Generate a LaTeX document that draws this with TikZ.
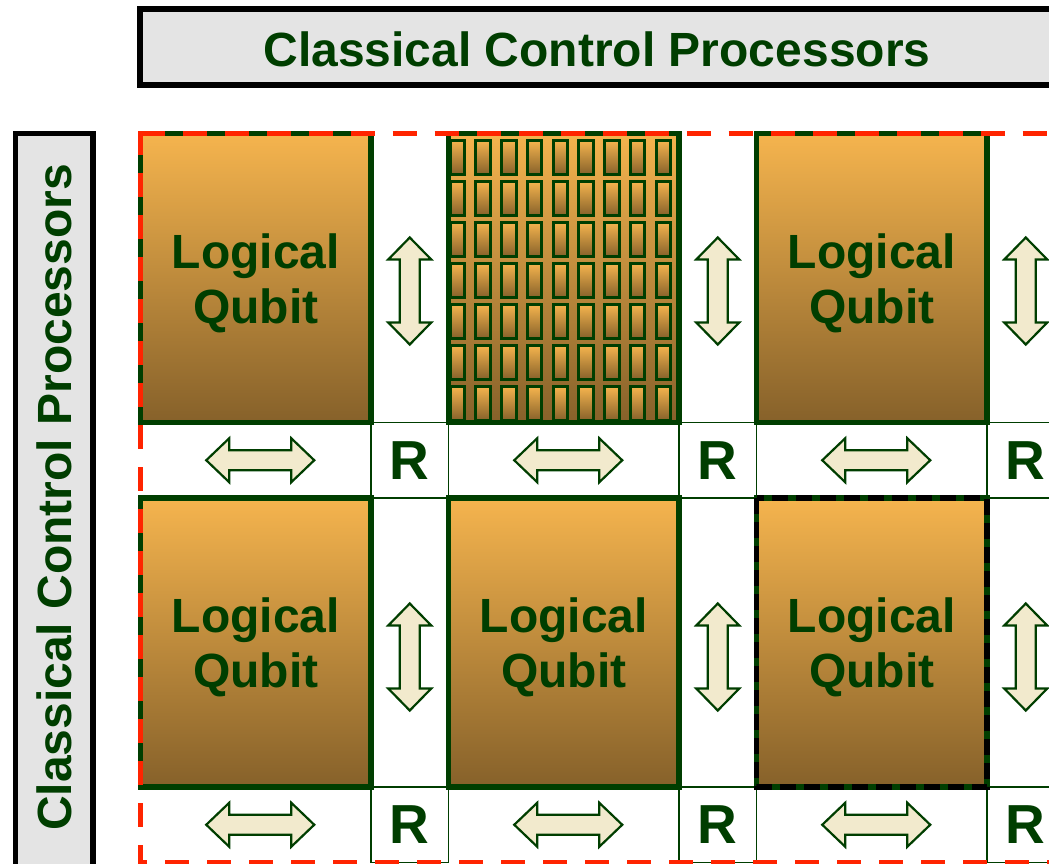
\documentclass[tikz,border=0pt]{standalone}
\usepackage{fontspec}
\setmainfont{Liberation Sans}

\definecolor{dkgreen}{RGB}{0,62,0}
\definecolor{qtop}{RGB}{245,180,78}
\definecolor{qbot}{RGB}{134,97,42}
\definecolor{chanfill}{RGB}{242,234,205}
\definecolor{bannerfill}{RGB}{228,228,228}
\definecolor{ctrlred}{RGB}{255,36,0}

% tile label, with a strut that sets the first line a little lower
\newcommand{\lqlabel}{\rule{0pt}{45pt}Logical\\Qubit}

\begin{document}
\begin{tikzpicture}[x=1pt,y=-1pt,
  qblock/.style={rectangle, draw=dkgreen, line width=5.5pt,
    top color=qtop, bottom color=qbot,
    minimum width=230.5pt, minimum height=289pt, inner sep=0pt, outer sep=0pt,
    align=center, text=dkgreen, font=\fontsize{48}{55}\selectfont\bfseries},
  mcell/.style={rectangle, draw=dkgreen, line width=3pt,
    top color=qtop, bottom color=qbot,
    minimum width=14.5pt, minimum height=34pt, inner sep=0pt, outer sep=0pt},
  rcell/.style={rectangle, draw=dkgreen, line width=1.8pt, fill=white,
    minimum width=77.5pt, minimum height=75.5pt, inner sep=0pt, outer sep=0pt,
    text=dkgreen, font=\fontsize{55}{60}\selectfont\bfseries},
  banner/.style={rectangle, draw=black, line width=5.5pt, fill=bannerfill,
    inner sep=0pt, outer sep=0pt},
  titletext/.style={text=dkgreen, font=\fontsize{48}{55}\selectfont\bfseries,
    inner sep=0pt},
  arrowsty/.style={draw=dkgreen, line width=2.2pt, fill=chanfill, line join=miter},
  ctrldash/.style={draw=ctrlred, line width=5pt, dash pattern=on 24pt off 18pt},
  blockdash/.style={draw=black, line width=5.5pt, dash pattern=on 16pt off 8pt},
  harrow/.pic={\path[arrowsty] (-54,0) -- (-31,-22) -- (-31,-10) -- (31,-10)
    -- (31,-22) -- (54,0) -- (31,22) -- (31,10) -- (-31,10) -- (-31,22) -- cycle;},
  varrow/.pic={\path[arrowsty] (0,-53.5) -- (21.5,-31.5) -- (10,-31.5) -- (10,31.5)
    -- (21.5,31.5) -- (0,53.5) -- (-21.5,31.5) -- (-10,31.5) -- (-10,-31.5)
    -- (-21.5,-31.5) -- cycle;}
]
\useasboundingbox (0,0) rectangle (1049,863);
\clip (0,0) rectangle (1049,863);

% routing cells at the channel crossings
\foreach \c/\x in {1/409.75, 2/717.75, 3/1025.75} {
  \node[rcell] (r-\c-1) at (\x,460.25) {R};
  \node[rcell] (r-\c-2) at (\x,824.75) {R};
}

% logical qubit tiles
\node[qblock] (a1) at (255.75,278) {\lqlabel};
\node[qblock] (b1) at (563.75,278) {};
\node[qblock] (c1) at (871.75,278) {\lqlabel};
\node[qblock] (a2) at (255.75,642.5) {\lqlabel};
\node[qblock] (b2) at (563.75,642.5) {\lqlabel};
\node[qblock] (c2) at (871.75,642.5) {\lqlabel};

% physical qubit array inside one tile
\foreach \i in {0,...,8} {
  \foreach \j in {0,...,6} {
    \node[mcell] (m-\i-\j) at ({457.25+25.75*\i},{157.5+41*\j}) {};
  }
}
\draw[dkgreen, line width=5.5pt] (b1.north west) rectangle (b1.south east);

% communication channels
\foreach \x in {409.75, 717.75, 1025.75} {
  \pic at (\x,291) {varrow};
  \pic at (\x,657) {varrow};
}
\foreach \x in {260.25, 568.25, 876.25} {
  \pic at (\x,460.25) {harrow};
  \pic at (\x,824.75) {harrow};
}

% highlighted tile
\draw[blockdash] (c2.north west) rectangle (c2.south east);

% region served by the control processors
\draw[ctrldash] (a1.north west) -- ++(930,0);
\draw[ctrldash] (140.5,131) -- (140.5,862.5) -- (1070,862.5);

% control processor banners
\node[banner, minimum width=914pt, minimum height=76pt] (topban) at (597,47) {};
\node[titletext] (toptxt) at (597,49.5) {Classical Control Processors};
\node[banner, rotate=90, minimum width=737pt, minimum height=77.5pt] (leftban) at (54.25,501.75) {};
\node[titletext, rotate=90] (lefttxt) at (54.5,497.5) {Classical Control Processors};
\end{tikzpicture}
\end{document}
